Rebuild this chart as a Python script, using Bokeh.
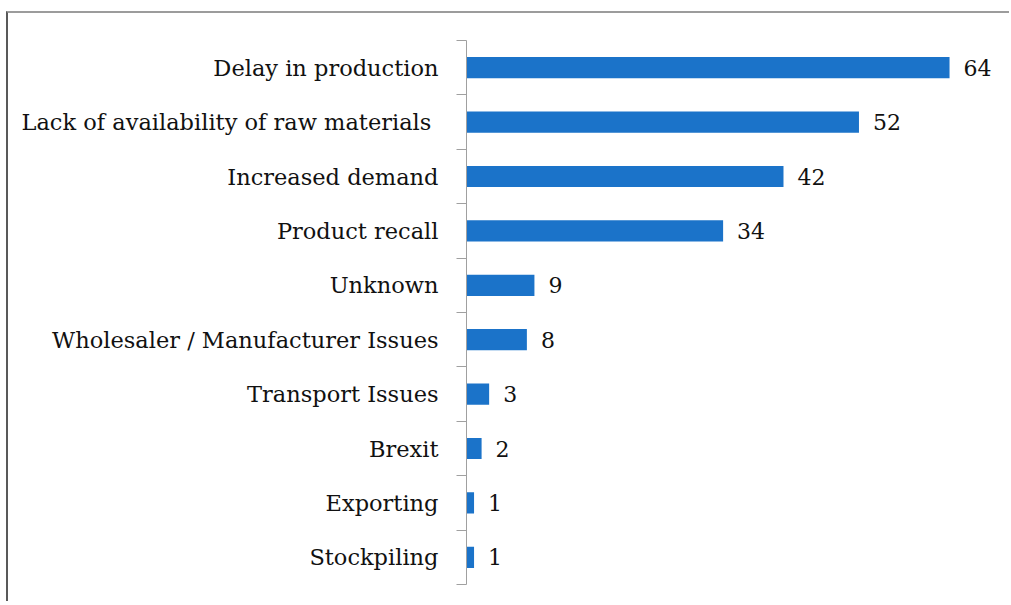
from bokeh.plotting import figure
from bokeh.models import ColumnDataSource, FixedTicker, Range1d
from bokeh.core.properties import value
from bokeh.embed import file_html
from bokeh.resources import INLINE

categories = ["Delay in production", "Lack of availability of raw materials ", "Increased demand",
              "Product recall", "Unknown", "Wholesaler / Manufacturer Issues", "Transport Issues",
              "Brexit", "Exporting", "Stockpiling"]
counts = [64, 52, 42, 34, 9, 8, 3, 2, 1, 1]

n = len(categories)
ypos = [n - i - 0.5 for i in range(n)]
src = ColumnDataSource(dict(y=ypos, v=counts, lab=[str(c) for c in counts], cat=categories))

FONT = "DejaVu Serif"

p = figure(width=1003, height=590, output_backend="svg", toolbar_location=None,
           x_range=Range1d(0, 72.21), y_range=Range1d(0, n),
           x_axis_location=None, min_border_left=458, min_border_right=0,
           min_border_top=27, min_border_bottom=19)
p.styles = {"margin-left": "6px", "margin-top": "11px",
            "border-left": "2px solid #595959", "border-top": "2px solid #9c9c9c"}
p.outline_line_color = None
p.xgrid.visible = False
p.ygrid.visible = False

p.hbar(y="y", right="v", left=0, height=0.39, source=src, fill_color="#1b73c9", line_color=None)
p.text(x="v", y="y", text="lab", source=src, x_offset=14, text_baseline="middle",
       text_font=value(FONT), text_font_size="22px", text_color="#111111")

ax = p.yaxis[0]
ax.ticker = FixedTicker(ticks=ypos, minor_ticks=list(range(n + 1)))
ax.major_label_overrides = {y: c for y, c in zip(ypos, categories)}
ax.major_tick_line_color = None
ax.major_tick_out = 0
ax.major_tick_in = 0
ax.minor_tick_out = 10
ax.minor_tick_in = 0
ax.minor_tick_line_color = "#a0a0a0"
ax.axis_line_color = "#a0a0a0"
ax.major_label_standoff = 18
ax.major_label_text_font = FONT
ax.major_label_text_font_size = "22.5px"
ax.major_label_text_color = "#111111"

open("out.html", "w").write(file_html(p, INLINE))
